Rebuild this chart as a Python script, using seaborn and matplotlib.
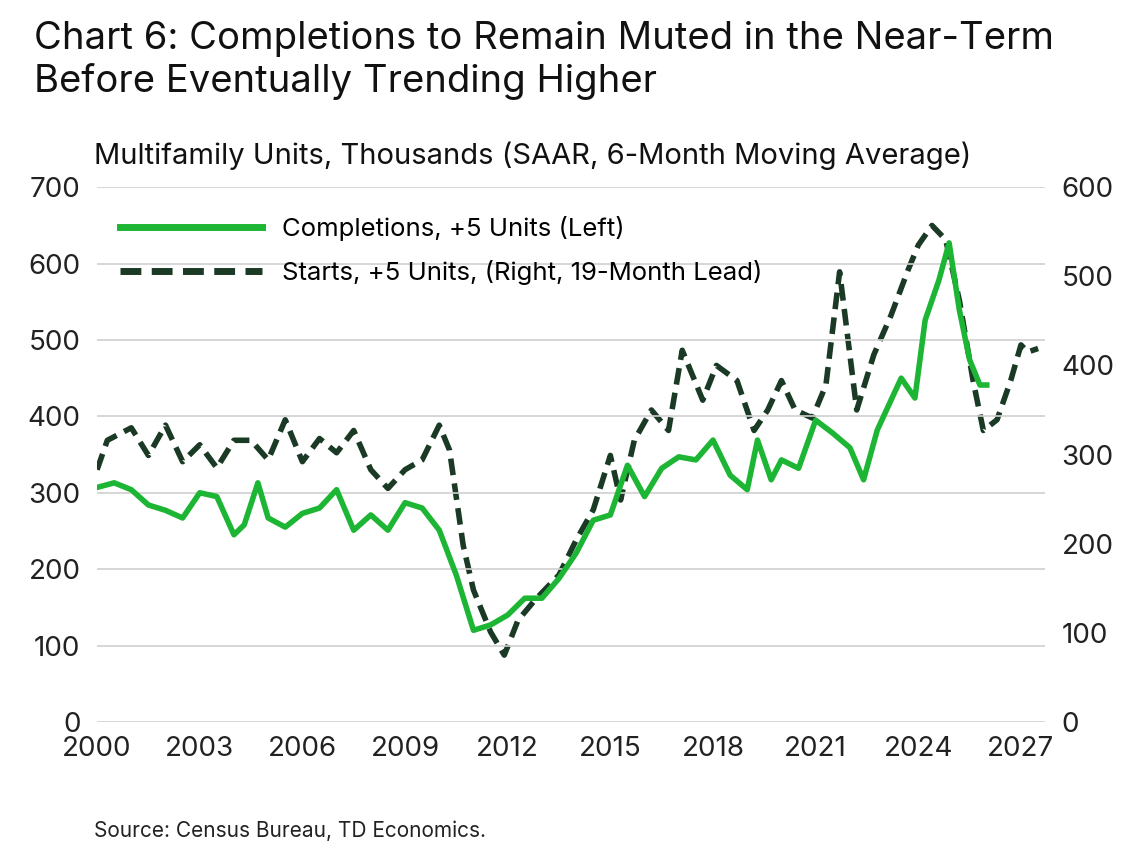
import pandas as pd
import seaborn as sns
import matplotlib.pyplot as plt
from matplotlib.lines import Line2D

# Completions, +5 units (left axis), thousands
comp_x = [2000, 2000.5, 2001, 2001.5, 2002, 2002.5, 2003, 2003.5, 2004, 2004.3, 2004.7, 2005, 2005.5,
          2006, 2006.5, 2007, 2007.5, 2008, 2008.5, 2009, 2009.5, 2010, 2010.5, 2011, 2011.5, 2012,
          2012.5, 2013, 2013.5, 2014, 2014.5, 2015, 2015.5, 2016, 2016.5, 2017, 2017.5, 2018, 2018.5,
          2019, 2019.3, 2019.7, 2020, 2020.5, 2021, 2021.5, 2022, 2022.4, 2022.8, 2023.2, 2023.5,
          2023.9, 2024.2, 2024.6, 2024.9, 2025.2, 2025.5, 2025.8, 2026.0]
comp_y = [307, 313, 304, 284, 277, 267, 300, 295, 245, 258, 313, 267, 255,
          273, 280, 304, 251, 271, 251, 287, 280, 251, 192, 120, 127, 140,
          162, 162, 188, 221, 264, 271, 336, 295, 332, 347, 343, 369, 323,
          304, 369, 317, 343, 332, 395, 378, 359, 317, 382, 421, 450,
          424, 526, 578, 627, 539, 474, 441, 441]

# Starts, +5 units (right axis, 19-month lead), thousands
start_x = [2000, 2000.3, 2001, 2001.5, 2002, 2002.5, 2003, 2003.5, 2004, 2004.5, 2005, 2005.5, 2006,
           2006.5, 2007, 2007.5, 2008, 2008.5, 2009, 2009.5, 2010, 2010.3, 2010.7, 2011, 2011.5,
           2011.9, 2012.3, 2012.8, 2013.5, 2014, 2014.5, 2015, 2015.3, 2015.7, 2016.2, 2016.7,
           2017.1, 2017.7, 2018.1, 2018.7, 2019.2, 2019.6, 2020, 2020.4, 2020.9, 2021.3, 2021.7,
           2022.2, 2022.7, 2023.2, 2023.7, 2024.0, 2024.4, 2024.8, 2025.2, 2025.6, 2025.9, 2026.3,
           2026.7, 2027.0, 2027.2, 2027.5]
start_y = [283, 316, 330, 299, 333, 292, 311, 285, 316, 316, 294, 339, 292,
           318, 302, 327, 283, 262, 283, 294, 333, 305, 198, 148, 101,
           75, 114, 137, 165, 204, 238, 299, 249, 316, 350, 327,
           417, 361, 400, 383, 327, 350, 383, 350, 341, 378, 505,
           350, 412, 456, 507, 535, 557, 541, 473, 383, 327, 339,
           383, 423, 415, 419]

green = "#1DB534"
dark = "#1B3A26"

plt.rcParams['font.family'] = ['Inter', 'DejaVu Sans']
fig = plt.figure(figsize=(11.42, 8.49), dpi=100)
ax = fig.add_axes([0.085, 0.1496, 0.83, 0.63])
ax2 = ax.twinx()

sns.lineplot(x=comp_x, y=comp_y, ax=ax, color=green, linewidth=4, zorder=3)
sns.lineplot(x=start_x, y=start_y, ax=ax2, color=dark, linewidth=4, linestyle=(0, (3, 1.5)), zorder=2)

ax.set_xlim(2000, 2027.7)
ax.set_ylim(0, 700)
ax2.set_ylim(0, 600)
ax.set_xticks(range(2000, 2028, 3))
ax.set_yticks(range(0, 701, 100))
ax2.set_yticks(range(0, 601, 100))
ax.yaxis.grid(True, color="#d0d0d0", linewidth=1.2)
ax.set_axisbelow(True)
for a in (ax, ax2):
    for s in a.spines.values():
        s.set_visible(False)
    a.tick_params(length=0, labelsize=20, colors="#222222")
ax.tick_params(axis='x', pad=10)
ax.tick_params(axis='y', pad=12)
ax2.tick_params(axis='y', pad=12)
ax.set_zorder(ax2.get_zorder() + 1)
ax.patch.set_visible(False)

handles = [Line2D([], [], color=green, linewidth=5),
           Line2D([], [], color=dark, linewidth=5, linestyle=(0, (3, 1.5)))]
ax.legend(handles, ["Completions, +5 Units (Left)", "Starts, +5 Units, (Right, 19-Month Lead)"],
          loc="upper left", frameon=False, fontsize=18.5, handlelength=5.5, labelspacing=0.75,
          bbox_to_anchor=(0.0, 0.99))

fig.text(0.03, 0.975, "Chart 6: Completions to Remain Muted in the Near-Term\nBefore Eventually Trending Higher",
         fontsize=27.5, va="top", ha="left", linespacing=1.2, color="#111111")
fig.text(0.082, 0.8, "Multifamily Units, Thousands (SAAR, 6-Month Moving Average)",
         fontsize=21, va="bottom", ha="left", color="#111111")
fig.text(0.082, 0.01, "Source: Census Bureau, TD Economics.", fontsize=15, ha="left", va="bottom", color="#222222")

fig.savefig("out.png", dpi=100)
